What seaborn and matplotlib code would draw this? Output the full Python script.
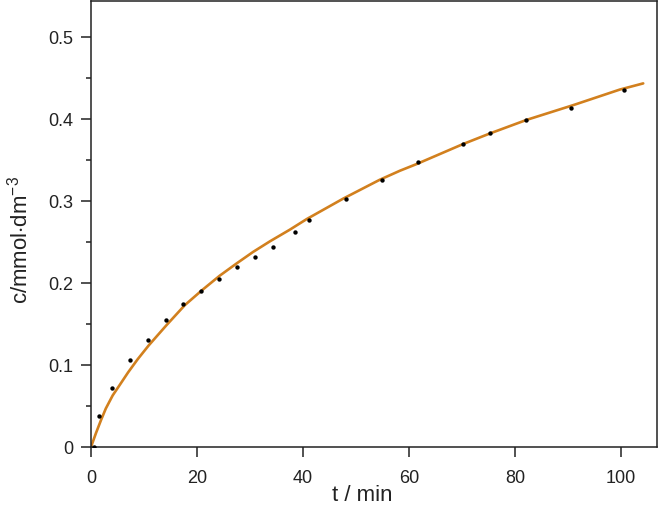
import numpy as np
import pandas as pd
import seaborn as sns
import matplotlib
matplotlib.use("Agg")
import matplotlib.pyplot as plt

# measured points
t_meas = [0.5, 1.45, 3.9, 7.36, 10.8, 14.15, 17.4, 20.8, 24.2, 27.5, 30.9,
          34.3, 38.5, 41.1, 48.1, 54.9, 61.7, 70.2, 75.3, 82.1, 90.6, 100.6]
c_meas = [0.0, 0.038, 0.072, 0.106, 0.131, 0.1545, 0.174, 0.1906, 0.205, 0.220, 0.232,
          0.244, 0.262, 0.277, 0.302, 0.326, 0.348, 0.369, 0.383, 0.399, 0.413, 0.435]

# fitted curve
t_fit = [0, 0.94, 1.9, 2.8, 4.1, 5.35, 7.0, 8.8, 10.9, 14.3, 17.7, 20.9, 24.3, 27.5,
         30.6, 33.8, 37.5, 40.7, 47.6, 54.5, 58.3, 61.4, 70.2, 75.3, 82.2, 91.0,
         99.8, 104.2]
c_fit = [0, 0.017, 0.033, 0.047, 0.063, 0.075, 0.091, 0.107, 0.124, 0.149, 0.173,
         0.191, 0.209, 0.224, 0.238, 0.251, 0.265, 0.278, 0.303, 0.326, 0.337, 0.345,
         0.3695, 0.3825, 0.399, 0.417, 0.436, 0.4435]

x_ticks = [0, 20, 40, 60, 80, 100]
y_ticks = [0, 0.1, 0.2, 0.3, 0.4, 0.5]
y_labels = ["0", "0.1", "0.2", "0.3", "0.4", "0.5"]

sns.set_style("ticks")
plt.rcParams['font.family'] = ['Liberation Sans', 'DejaVu Sans']
plt.rcParams['mathtext.fontset'] = 'custom'
plt.rcParams['mathtext.rm'] = 'Liberation Sans'

meas = pd.DataFrame({'t': t_meas, 'c': c_meas})
fit = pd.DataFrame({'t': t_fit, 'c': c_fit})

fig = plt.figure(figsize=(6.61, 5.05), dpi=100)
ax = fig.add_axes([91/661, 58/505, 566/661, 446/505])

sns.lineplot(x='t', y='c', data=fit, ax=ax, color='#d2801e', linewidth=1.9, sort=False)
sns.scatterplot(x='t', y='c', data=meas, ax=ax, color='black', s=10, marker='o',
                linewidth=0, zorder=3)

ax.set_xlim(0, 106.8)
ax.set_ylim(0, 0.544)
ax.set_xticks(x_ticks)
ax.set_yticks(y_ticks)
ax.set_yticklabels(y_labels)
ax.set_yticks(np.arange(0.05, 0.5, 0.1), minor=True)
ax.tick_params(axis='both', which='major', direction='out', length=7.5, width=1.1,
               color='#222222', labelsize=13, labelcolor='#222222')
ax.tick_params(axis='y', which='minor', direction='out', length=3.8, width=1.1, color='#222222')
ax.tick_params(axis='y', which='major', pad=5)
ax.tick_params(axis='x', which='major', pad=9)
for s in ax.spines.values():
    s.set_linewidth(1.1)
    s.set_color('#222222')

ax.set_xlabel('t / min', fontsize=16, color='#222222')
ax.set_ylabel(r'c/mmol$\cdot$dm$^{-3}$', fontsize=16, color='#222222')
ax.xaxis.set_label_coords(0.479, -0.085)
ax.yaxis.set_label_coords(-0.104, 0.464)

fig.savefig('out.png', dpi=100)
